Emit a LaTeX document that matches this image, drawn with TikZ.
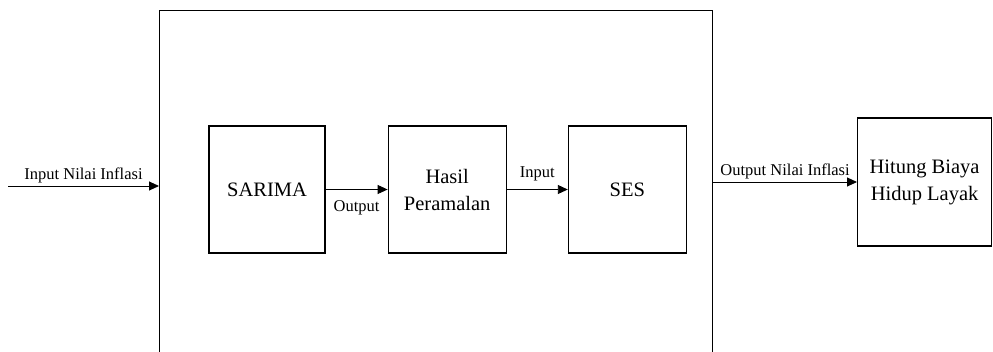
\documentclass[tikz,border=0pt]{standalone}
\usepackage{fontspec}
\setmainfont{Liberation Serif}
\usetikzlibrary{positioning, arrows.meta}

\begin{document}
\begin{tikzpicture}[x=1pt, y=-1pt,
    block/.style={rectangle, 
      draw, 
      line width=1.2pt, 
      minimum height=127pt, 
      align=center, 
      font=\fontsize{20.5}{27}\selectfont},
    flow/.style={-{Triangle[length=10pt, width=9pt]}, line width=0.9pt},
    flowtext/.style={inner sep=3pt, font=\fontsize{16.5}{20}\selectfont}]

  \useasboundingbox (0,0) rectangle (993,351);
  \clip (0,0) rectangle (993,351);

  % SYSTEM

  \node [draw, 
    line width=1.2pt, 
    minimum width=553pt, 
    minimum height=400pt, 
    anchor=north west] (system) at (159,10) {};

  % BLOCKS

  \node [block, minimum width=116pt] (sarima) at (267,189.5) {SARIMA};

  \node [block, 
    minimum width=118pt, 
    right=62pt of sarima] (hasil) {Hasil\\Peramalan};

  \node [block, 
    minimum width=118pt, 
    right=61pt of hasil] (ses) {SES};

  \node [block, 
    minimum width=134pt, 
    minimum height=128pt, 
    anchor=west] (hitung) at (857,182) {Hitung Biaya\\Hidup Layak};

  % FLOWS

  \coordinate (source) at (8,186);

  \draw [flow] (source) -- (source -| system.west) 
    node [flowtext, midway, above] {Input Nilai Inflasi};
  \draw [flow] (sarima) -- (hasil) 
    node [flowtext, midway, below=8pt] {Output};
  \draw [flow] (hasil) -- (ses) 
    node [flowtext, midway, above=5pt] {Input};
  \draw [flow] (system.east |- hitung.west) -- (hitung.west) 
    node [flowtext, midway, above] {Output Nilai Inflasi};

\end{tikzpicture}
\end{document}
